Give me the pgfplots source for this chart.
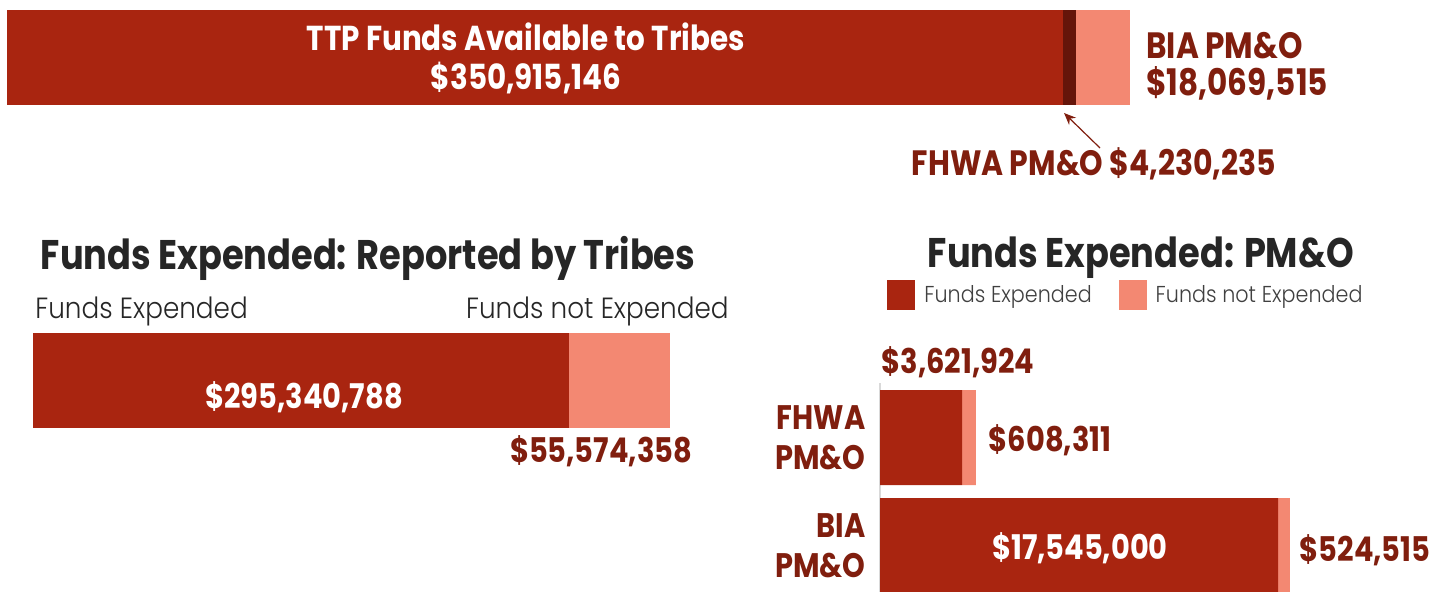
\documentclass[border=0pt]{standalone}
\usepackage{fontspec}
\setmainfont{Poppins}[FakeStretch=0.85]
\newfontfamily\lightfont{Poppins Light}[FakeStretch=0.9]
\usepackage{pgfplots}
\pgfplotsset{compat=1.18}
\usetikzlibrary{arrows.meta}
\definecolor{cBar}{RGB}{169,37,16}
\definecolor{cDark}{RGB}{101,21,10}
\definecolor{cSalmon}{RGB}{243,136,114}
\definecolor{cLabel}{RGB}{128,30,14}
\definecolor{cTitle}{RGB}{38,38,38}
\definecolor{cLegend}{RGB}{64,64,64}
\definecolor{cAxis}{RGB}{217,217,217}
\newcommand\valfont{\bfseries\fontsize{17}{20}\selectfont}
\newcommand\titfont{\bfseries\fontsize{20.7}{24}\selectfont}
\begin{document}
\begin{tikzpicture}
\path[use as bounding box] (0pt,0pt) rectangle (723pt,-296pt);
% top bar
\begin{axis}[at={(3.5pt,-5pt)}, anchor=north west, scale only axis,
  width=561.5pt, height=47.5pt, xbar stacked, bar width=47.5pt,
  xmin=0, xmax=373214896, ymin=-0.5, ymax=0.5, hide axis, clip=false]
\addplot[fill=cBar, draw=none] coordinates {(350915146,0)};
\addplot[fill=cDark, draw=none] coordinates {(4230235,0)};
\addplot[fill=cSalmon, draw=none] coordinates {(18069515,0)};
\end{axis}
% bottom-left bar
\begin{axis}[at={(16.5pt,-166.5pt)}, anchor=north west, scale only axis,
  width=318.5pt, height=47.5pt, xbar stacked, bar width=47.5pt,
  xmin=0, xmax=350915146, ymin=-0.5, ymax=0.5, hide axis, clip=false]
\addplot[fill=cBar, draw=none] coordinates {(295340788,0)};
\addplot[fill=cSalmon, draw=none] coordinates {(55574358,0)};
\end{axis}
% bottom-right bars
\begin{axis}[at={(440pt,-191.5pt)}, anchor=north west, scale only axis,
  width=250pt, height=104.5pt, xbar stacked, bar width=47.5pt,
  xmin=0, xmax=22042000, ymin=-0.43, ymax=1.505,
  axis x line=none, axis y line*=left,
  y axis line style={draw=cAxis, line width=1pt, -},
  ytick={0,1}, yticklabels={BIA\\PM\&O, FHWA\\PM\&O},
  major tick length=0pt,
  yticklabel style={align=right, inner sep=0pt, xshift=-7pt, font=\valfont, text=cLabel},
  clip=false,
  legend columns=2,
  legend style={at={(axis description cs:0.014,1.421)}, anchor=west, draw=none, fill=none,
    inner sep=0pt, font=\lightfont\fontsize{11.5}{13}\selectfont, text=cLegend,
    nodes={inner xsep=4.5pt},
    /tikz/every even column/.append style={column sep=9pt}},
  ]
\addplot[fill=cBar, draw=none,
  legend image code/.code={\fill[cBar] (0pt,-7.5pt) rectangle (14pt,7.5pt);}]
  coordinates {(17545000,0) (3621924,1)};
\addlegendentry{Funds Expended}
\addplot[fill=cSalmon, draw=none,
  legend image code/.code={\fill[cSalmon] (0pt,-7.5pt) rectangle (14pt,7.5pt);}]
  coordinates {(524515,0) (608311,1)};
\addlegendentry{Funds not Expended}
\end{axis}
% annotations
\node[inner sep=0pt, align=center, text=white, font=\bfseries\fontsize{17.3}{19.5}\selectfont] at (263pt,-29pt) {TTP Funds Available to Tribes\\\$350,915,146};
\node[inner sep=0pt, align=left, anchor=west, text=cLabel, font=\bfseries\fontsize{18.3}{18.5}\selectfont] at (573pt,-33pt) {BIA PM\&O\\\$18,069,515};
\node[inner sep=0pt, text=cLabel, font=\bfseries\fontsize{17.6}{19}\selectfont] at (547pt,-82pt) {FHWA PM\&O \$4,230,235};
\draw[-{Stealth[length=6pt,width=5pt]}, cLabel, line width=0.6pt] (550pt,-74pt) -- (532pt,-56.5pt);
\node[inner sep=0pt, text=cTitle, font=\titfont] at (184pt,-129pt) {Funds Expended: Reported by Tribes};
\node[inner sep=0pt, text=cTitle, font=\titfont] at (570.5pt,-129pt) {Funds Expended: PM\&O};
\node[inner sep=0pt, anchor=west, text=cTitle, font=\lightfont\fontsize{14.6}{16}\selectfont] at (17.5pt,-155.5pt) {Funds Expended};
\node[inner sep=0pt, anchor=east, text=cTitle, font=\lightfont\fontsize{14.6}{16}\selectfont] at (364.5pt,-155.5pt) {Funds not Expended};
\node[inner sep=0pt, text=white, font=\valfont] at (152pt,-198.5pt) {\$295,340,788};
\node[inner sep=0pt, text=cLabel, font=\valfont] at (300.5pt,-225.5pt) {\$55,574,358};
\node[inner sep=0pt, text=cLabel, font=\valfont] at (479pt,-181pt) {\$3,621,924};
\node[inner sep=0pt, text=cLabel, font=\valfont] at (525pt,-220pt) {\$608,311};
\node[inner sep=0pt, text=white, font=\valfont] at (540pt,-274pt) {\$17,545,000};
\node[inner sep=0pt, text=cLabel, font=\valfont] at (682.5pt,-275pt) {\$524,515};
\end{tikzpicture}
\end{document}
